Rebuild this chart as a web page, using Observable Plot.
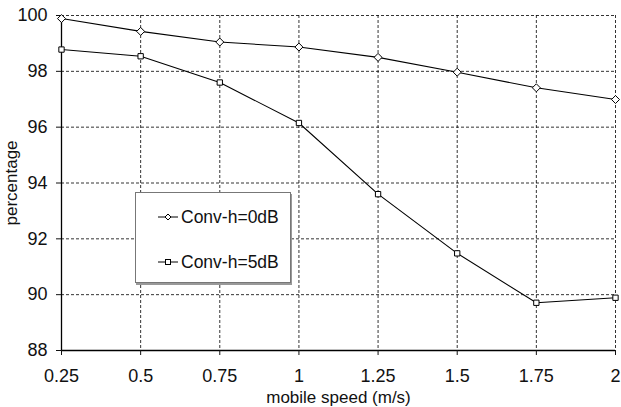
<!DOCTYPE html>
<html>
<head>
<meta charset="utf-8">
<script src="https://cdn.jsdelivr.net/npm/d3@7"></script>
<script src="https://cdn.jsdelivr.net/npm/@observablehq/plot@0.6"></script>
<style>
  html, body { margin: 0; padding: 0; background: #fff; }
  #wrap { position: relative; width: 621px; height: 407px; font-family: "Liberation Sans", Arial, sans-serif; }
  #legend { position: absolute; left: 135px; top: 192px; width: 156px; height: 91px; background: #fff;
            border: 1px solid #777; box-shadow: 1px 2px 0 #999; box-sizing: border-box; }
  .item { position: absolute; left: 22px; display: flex; align-items: center; font-size: 17.5px; line-height: 20px; color: #111; white-space: nowrap; }
  .item svg { margin-right: 3px; }
</style>
</head>
<body>
<div id="wrap"></div>
<script>
const speeds = [0.25, 0.5, 0.75, 1, 1.25, 1.5, 1.75, 2];
const conv0dB = [99.89, 99.43, 99.05, 98.87, 98.5, 97.97, 97.41, 96.99];
const conv5dB = [98.78, 98.54, 97.6, 96.15, 93.6, 91.48, 89.71, 89.89];
const seriesNames = ["Conv-h=0dB", "Conv-h=5dB"];
const xTicks = [0.25, 0.5, 0.75, 1, 1.25, 1.5, 1.75, 2];
const yTicks = [88, 90, 92, 94, 96, 98, 100];

const d0 = speeds.map((s, i) => ({speed: s, value: conv0dB[i]}));
const d5 = speeds.map((s, i) => ({speed: s, value: conv5dB[i]}));

const chart = Plot.plot({
  width: 621,
  height: 407,
  marginLeft: 61,
  marginRight: 6,
  marginTop: 15,
  marginBottom: 57,
  style: {fontFamily: "Liberation Sans, Arial, sans-serif", fontSize: "18px", color: "#111", background: "#fff"},
  x: {domain: [0.25, 2]},
  y: {domain: [88, 100]},
  marks: [
    Plot.gridX(xTicks.slice(1), {stroke: "#000", strokeOpacity: 0.8, strokeDasharray: "3,2"}),
    Plot.gridY(yTicks.slice(1), {stroke: "#000", strokeOpacity: 0.8, strokeDasharray: "3,2"}),
    Plot.ruleX([0.25], {stroke: "#000", strokeWidth: 1.3}),
    Plot.ruleY([88], {stroke: "#000", strokeWidth: 1.3}),
    Plot.axisX({ticks: xTicks, tickFormat: d => String(d), tickSize: 5, tickPadding: 14, fontSize: 18,
                label: "mobile speed (m/s)", labelAnchor: "center", labelArrow: "none", labelOffset: 52}),
    Plot.axisY({ticks: yTicks, tickSize: 5, tickPadding: 9, fontSize: 18,
                label: "percentage", labelAnchor: "center", labelArrow: "none", labelOffset: 57}),
    Plot.line(d0, {x: "speed", y: "value", stroke: "#000", strokeWidth: 1.1}),
    Plot.line(d5, {x: "speed", y: "value", stroke: "#000", strokeWidth: 1.1}),
    Plot.dot(d0, {x: "speed", y: "value", symbol: "diamond2", r: 3.6, fill: "#fff", stroke: "#000", strokeWidth: 1}),
    Plot.dot(d5, {x: "speed", y: "value", symbol: "square", r: 3, fill: "#fff", stroke: "#000", strokeWidth: 1})
  ]
});
d3.select(chart).selectAll("g[aria-label='x-axis tick label'] text, g[aria-label='y-axis tick label'] text").style("font-size", "18px");
d3.select(chart).selectAll("g[aria-label='x-axis label'] text, g[aria-label='y-axis label'] text").style("font-size", "17px");
document.getElementById("wrap").appendChild(chart);

// legend
const legend = document.createElement("div");
legend.id = "legend";
const symbols = [
  '<svg width="20" height="10"><line x1="0" y1="5" x2="20" y2="5" stroke="#000"/><path d="M10,2 L13,5 L10,8 L7,5 Z" fill="#fff" stroke="#000"/></svg>',
  '<svg width="20" height="10"><line x1="0" y1="5" x2="20" y2="5" stroke="#000"/><rect x="7.5" y="2.5" width="5" height="5" fill="#fff" stroke="#000"/></svg>'
];
seriesNames.forEach((name, i) => {
  const it = document.createElement("div");
  it.className = "item";
  it.style.top = (i === 0 ? 14 : 59) + "px";
  it.innerHTML = symbols[i] + "<span>" + name + "</span>";
  legend.appendChild(it);
});
document.getElementById("wrap").appendChild(legend);
</script>
</body>
</html>
